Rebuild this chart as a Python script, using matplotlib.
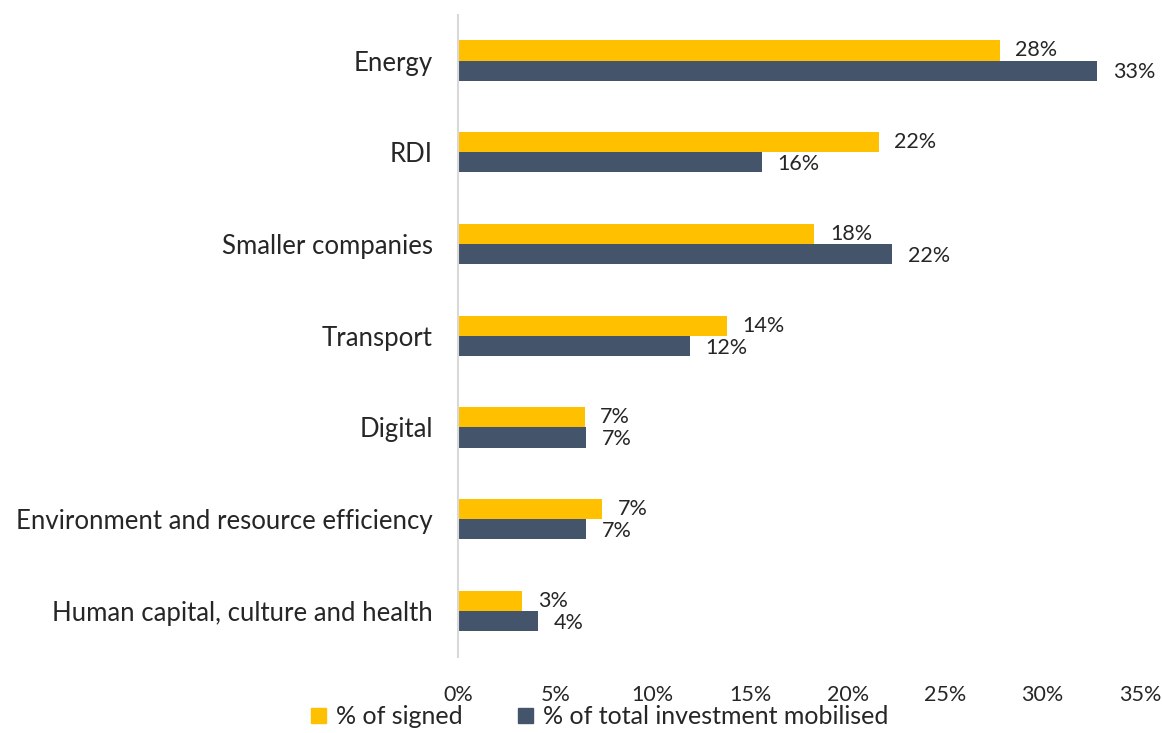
import numpy as np
import matplotlib.pyplot as plt
from matplotlib.patches import Patch

plt.rcParams['font.family'] = ['Lato', 'DejaVu Sans']

categories = ["Energy", "RDI", "Smaller companies", "Transport", "Digital",
              "Environment and resource efficiency", "Human capital, culture and health"]
signed = [27.8, 21.6, 18.3, 13.8, 6.5, 7.4, 3.3]
mobilised = [32.8, 15.6, 22.3, 11.9, 6.6, 6.6, 4.1]
signed_labels = ["28%", "22%", "18%", "14%", "7%", "7%", "3%"]
mobilised_labels = ["33%", "16%", "22%", "12%", "7%", "7%", "4%"]
xticks = [0, 5, 10, 15, 20, 25, 30, 35]

yellow = "#FFC000"
navy = "#44546A"
txt = "#262626"

fig = plt.figure(figsize=(11.62, 7.33), dpi=100)
ax = fig.add_axes([0.394, 0.104, 0.587, 0.876])

y = np.arange(len(categories))
h = 0.22
ax.barh(y - h / 2, signed, height=h, color=yellow)
ax.barh(y + h / 2, mobilised, height=h, color=navy)

# data labels to the right of each bar
for yi, v, lab in zip(y, signed, signed_labels):
    ax.text(v + 0.8, yi - h / 2, lab, va="center", ha="left", fontsize=15.5, color=txt)
for yi, v, lab in zip(y, mobilised, mobilised_labels):
    ax.text(v + 0.8, yi + h / 2 + 0.02, lab, va="center", ha="left", fontsize=15.5, color=txt)

ax.set_ylim(len(categories) - 0.5, -0.5)
ax.set_xlim(0, 35)
ax.set_yticks(y)
ax.set_yticklabels(categories, fontsize=18.5, color=txt)
ax.set_xticks(xticks)
ax.set_xticklabels([f"{t}%" for t in xticks], fontsize=15.5, color=txt)
ax.tick_params(axis="both", length=0)
ax.tick_params(axis="y", pad=18)
ax.tick_params(axis="x", pad=20)

for s in ["top", "right", "bottom"]:
    ax.spines[s].set_visible(False)
ax.spines["left"].set_color("#D9D9D9")
ax.spines["left"].set_linewidth(1.5)

handles = [Patch(color=yellow, label="% of signed"),
           Patch(color=navy, label="% of total investment mobilised")]
fig.legend(handles=handles, loc="center", bbox_to_anchor=(0.516, 0.022), ncol=2,
           frameon=False, fontsize=18, handlelength=0.6, handleheight=0.6,
           columnspacing=2.2, handletextpad=0.4, labelcolor=txt)

fig.savefig("out.png", dpi=100)
